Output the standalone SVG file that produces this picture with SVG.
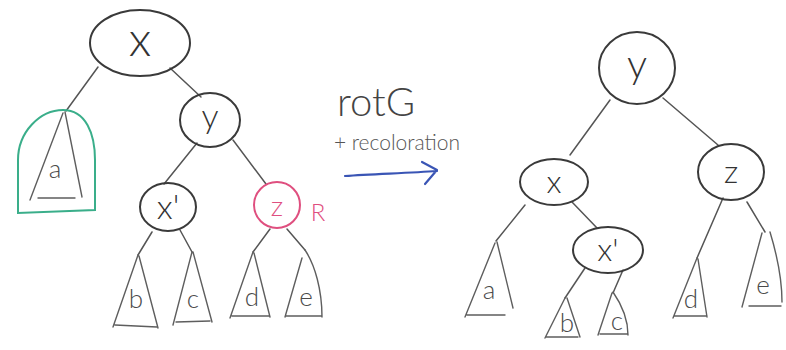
<svg xmlns="http://www.w3.org/2000/svg" width="786" height="350" viewBox="0 0 786 350">
  <style>
    .node { fill: none; stroke: #3a3a3a; stroke-width: 2; }
    .edge { fill: none; stroke: #555; stroke-width: 1.5; stroke-linecap: round; }
    .tree { fill: none; stroke: #5e5e5e; stroke-width: 1.4; stroke-linecap: round; stroke-linejoin: round; }
    .lbl { font-family: "Lato", "Open Sans", "DejaVu Sans", sans-serif; font-weight: 300; fill: #333; text-anchor: middle; }
    .sub { font-family: "Lato", "Open Sans", "DejaVu Sans", sans-serif; font-weight: 300; fill: #4a4a4a; text-anchor: middle; font-size: 26px; }
  </style>
  <rect width="786" height="350" fill="#fff"/>

  <!-- connectors -->
  <g id="connectors">
    <!-- left tree -->
    <path class="edge" d="M98,67 L66,111"/>
    <path class="edge" d="M170,68 L201,97"/>
    <path class="edge" d="M197,143 L164,184"/>
    <path class="edge" d="M233,140 L266,184"/>
    <path class="edge" d="M152,232 L138,255"/>
    <path class="edge" d="M180,230 L192,252"/>
    <path class="edge" d="M270,229 L253,252"/>
    <path class="edge" d="M287,229 L305,250"/>
    <!-- right tree -->
    <path class="edge" d="M610,100 L570,155"/>
    <path class="edge" d="M663,98 L718,145"/>
    <path class="edge" d="M525,205 L496,241"/>
    <path class="edge" d="M572,202 L597,228"/>
    <path class="edge" d="M585,268 L565,298"/>
    <path class="edge" d="M623,270 L613,293"/>
    <path class="edge" d="M723,198 L697,258"/>
    <path class="edge" d="M747,202 L765,232"/>
  </g>

  <!-- left tree nodes -->
  <g id="L-x">
    <ellipse class="node" cx="140" cy="43" rx="50" ry="33"/>
    <text class="lbl" x="140" y="56" font-size="48">x</text>
  </g>
  <g id="L-y">
    <ellipse class="node" cx="210" cy="120" rx="30" ry="27"/>
    <text class="lbl" x="210" y="128" font-size="34">y</text>
  </g>
  <g id="L-x2">
    <ellipse class="node" cx="168" cy="207" rx="28" ry="24"/>
    <text class="lbl" x="168" y="219" font-size="34">x'</text>
  </g>
  <g id="L-z">
    <circle cx="277" cy="205" r="23" fill="none" stroke="#df4f7f" stroke-width="2"/>
    <text class="lbl" x="277" y="216" font-size="28" style="fill:#df4f7f">z</text>
    <text x="318" y="221" font-family="Lato, 'Open Sans', sans-serif" font-weight="300" font-size="24" fill="#df4f7f" text-anchor="middle">R</text>
  </g>
  <g id="L-a">
    <path d="M18,213 L18,160 C18,132 40,110 63,110 C86,110 95,134 95,160 L95,210 Z" fill="none" stroke="#3aae8a" stroke-width="2"/>
    <path class="tree" d="M63,113 L30,200 M65,112 L82,197 M38,198 L75,198"/>
    <text class="sub" x="55" y="178">a</text>
  </g>
  <g id="L-b">
    <path class="tree" d="M138,255 L113,327 M139,256 L158,328 M115,325 L157,327"/>
    <text class="sub" x="136" y="308">b</text>
  </g>
  <g id="L-c">
    <path class="tree" d="M192,252 L173,325 M193,252 L212,322 M176,322 L210,321"/>
    <text class="sub" x="193" y="308">c</text>
  </g>
  <g id="L-d">
    <path class="tree" d="M253,252 L230,318 M254,253 L270,317 M232,316 L269,316"/>
    <text class="sub" x="252" y="306">d</text>
  </g>
  <g id="L-e">
    <path class="tree" d="M302,258 L285,317 M305,250 C315,265 322,290 322,317 M286,316 L322,316"/>
    <text class="sub" x="306" y="306">e</text>
  </g>

  <!-- operation label -->
  <g id="op">
    <text x="376" y="116" font-family="Lato, 'Open Sans', sans-serif" font-weight="300" font-size="40" fill="#444" text-anchor="middle">rotG</text>
    <text x="397" y="150" font-family="Lato, 'Open Sans', sans-serif" font-weight="300" font-size="21" fill="#555" text-anchor="middle">+ recoloration</text>
    <path d="M345,176 C375,174 410,173 437,171 M422,162 L437,170 L425,184" fill="none" stroke="#3a55b5" stroke-width="2.2" stroke-linecap="round" stroke-linejoin="round"/>
  </g>

  <!-- right tree nodes -->
  <g id="R-y">
    <ellipse class="node" cx="637" cy="68" rx="38" ry="36"/>
    <text class="lbl" x="637" y="78" font-size="40">y</text>
  </g>
  <g id="R-x">
    <ellipse class="node" cx="554" cy="182" rx="34" ry="23"/>
    <text class="lbl" x="554" y="193" font-size="32">x</text>
  </g>
  <g id="R-z">
    <ellipse class="node" cx="731" cy="172" rx="33" ry="28"/>
    <text class="lbl" x="731" y="183" font-size="32">z</text>
  </g>
  <g id="R-x2">
    <ellipse class="node" cx="608" cy="250" rx="35" ry="23"/>
    <text class="lbl" x="608" y="261" font-size="32">x'</text>
  </g>
  <g id="R-a">
    <path class="tree" d="M495,243 L465,317 M497,242 L513,308 M467,315 L505,315"/>
    <text class="sub" x="489" y="299">a</text>
  </g>
  <g id="R-b">
    <path class="tree" d="M565,298 L545,338 M567,298 L580,337 M546,337 L578,337"/>
    <text class="sub" x="567" y="332">b</text>
  </g>
  <g id="R-c">
    <path class="tree" d="M612,293 L598,335 M613,292 C622,305 628,320 628,335 M600,334 L627,334"/>
    <text class="sub" x="617" y="330">c</text>
  </g>
  <g id="R-d">
    <path class="tree" d="M697,258 L673,318 M698,259 L707,317 M674,316 L707,316"/>
    <text class="sub" x="691" y="308">d</text>
  </g>
  <g id="R-e">
    <path class="tree" d="M762,233 L742,307 M770,232 C777,255 782,280 782,302 M749,306 L781,306"/>
    <text class="sub" x="763" y="294">e</text>
  </g>
</svg>
